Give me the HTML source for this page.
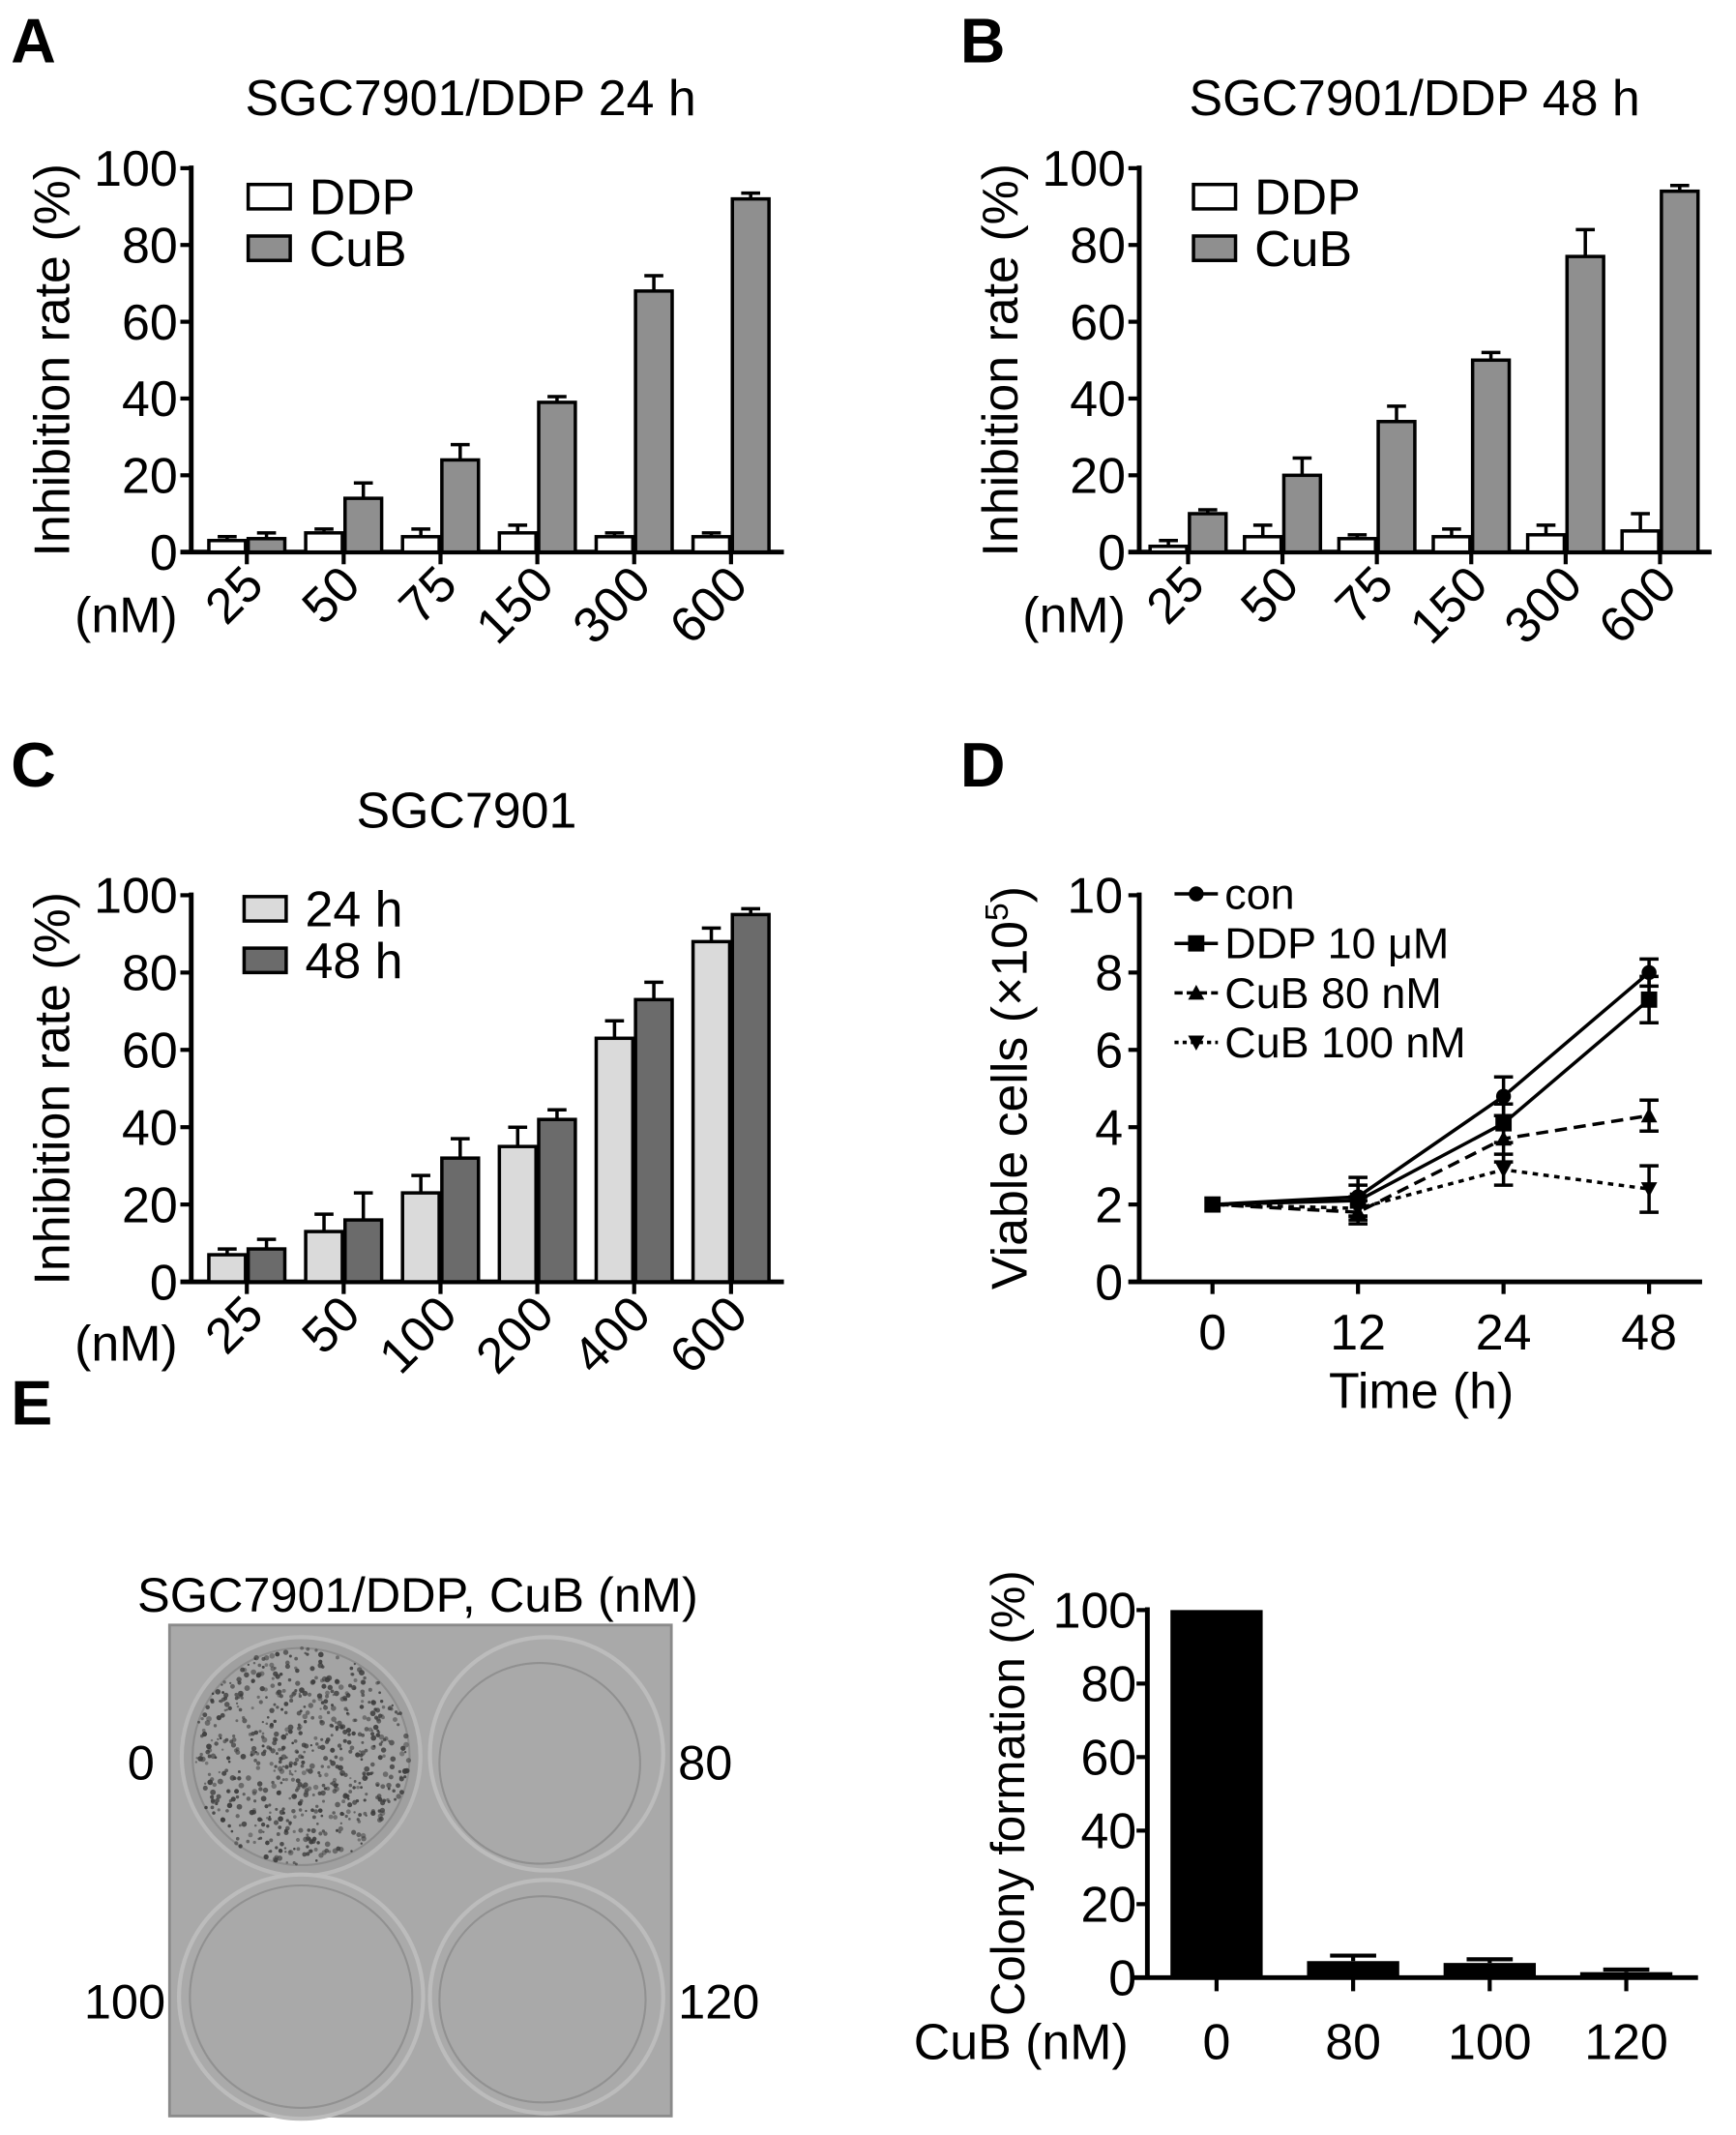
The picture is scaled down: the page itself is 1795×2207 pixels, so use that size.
<!DOCTYPE html>
<html><head><meta charset="utf-8"><style>
html,body{margin:0;padding:0;background:#fff;}
svg{display:block;font-family:"Liberation Sans",Arial,sans-serif;}
</style></head><body>
<svg id="fig" width="1795" height="2207" viewBox="0 0 1280 1574" preserveAspectRatio="none" xmlns="http://www.w3.org/2000/svg">
<rect width="1280" height="1574" fill="#fff"/>
<g id="static">
<text x="8" y="46" font-size="46" font-weight="bold">A</text>
<text x="708" y="46" font-size="46" font-weight="bold">B</text>
<text x="8" y="580" font-size="46" font-weight="bold">C</text>
<text x="708" y="580" font-size="46" font-weight="bold">D</text>
<text x="8" y="1050" font-size="46" font-weight="bold">E</text>
<text x="308" y="1188" font-size="36" text-anchor="middle">SGC7901/DDP, CuB (nM)</text>
<g>
<rect x="125" y="1198" width="370" height="362" fill="#a9a9a9"/>
<rect x="125" y="1198" width="370" height="362" fill="none" stroke="#8a8a8a" stroke-width="2"/>
<circle cx="222" cy="1295" r="88" fill="#a0a0a0" stroke="#b8b8b8" stroke-width="3"/>
<circle cx="222" cy="1295" r="80" fill="#a4a4a4" stroke="#8c8c8c" stroke-width="1.5"/>
<g id="dots" fill="#3c3c3c"></g>
<circle cx="403" cy="1293" r="86" fill="#aaaaaa" stroke="#bcbcbc" stroke-width="3"/>
<circle cx="398" cy="1300" r="74" fill="#a9a9a9" stroke="#909090" stroke-width="1.5"/>
<circle cx="222" cy="1472" r="90" fill="#aaaaaa" stroke="#bcbcbc" stroke-width="3"/>
<circle cx="222" cy="1472" r="82" fill="#a9a9a9" stroke="#919191" stroke-width="1.5"/>
<circle cx="403" cy="1472" r="86" fill="#aaaaaa" stroke="#bcbcbc" stroke-width="3"/>
<circle cx="400" cy="1474" r="76" fill="#a9a9a9" stroke="#919191" stroke-width="1.5"/>
</g>
<text x="114" y="1312" font-size="36" text-anchor="end">0</text>
<text x="500" y="1312" font-size="36">80</text>
<text x="122" y="1488" font-size="36" text-anchor="end">100</text>
<text x="500" y="1488" font-size="36">120</text>
</g>
<g id="charts"></g>
</svg>
<script>
// Panel A data
const catsA = ["25","50","75","150","300","600"];
const ddpA = [3,5,4,5,4,4];
const ddpAErr = [1,1,2,2,1,1];
const cubA = [3.5,14,24,39,68,92];
const cubAErr = [1.5,4,4,1.5,4,1.5];
// Panel B data
const catsB = ["25","50","75","150","300","600"];
const ddpB = [1.5,4,3.5,4,4.5,5.5];
const ddpBErr = [1.5,3,1,2,2.5,4.5];
const cubB = [10,20,34,50,77,94];
const cubBErr = [1,4.5,4,2,7,1.5];
// Panel C data
const catsC = ["25","50","100","200","400","600"];
const h24C = [7,13,23,35,63,88];
const h24CErr = [1.5,4.5,4.5,5,4.5,3.5];
const h48C = [8.5,16,32,42,73,95];
const h48CErr = [2.5,7,5,2.5,4.5,1.5];
const ticksPct = [0,20,40,60,80,100];
// Panel D data
const timesD = ["0","12","24","48"];
const conD = [2,2.2,4.8,8];
const conDErr = [0,0.5,0.5,0.35];
const ddpD = [2,2.1,4.1,7.3];
const ddpDErr = [0,0.4,0.5,0.6];
const cub80D = [2,1.8,3.7,4.3];
const cub80DErr = [0,0.3,0.6,0.4];
const cub100D = [2,1.9,2.9,2.4];
const cub100DErr = [0,0.3,0.4,0.6];
const ticksD = [0,2,4,6,8,10];
// Panel E data
const catsE = ["0","80","100","120"];
const colonyE = [100,4.5,4,1.5];
const colonyEErr = [0,1.5,1,0.7];

const NS = "http://www.w3.org/2000/svg";
const root = document.getElementById("charts");
function mk(tag, attrs, parent, txt){
  const e = document.createElementNS(NS, tag);
  for (const k in attrs) e.setAttribute(k, attrs[k]);
  if (txt !== undefined) e.textContent = txt;
  (parent || root).appendChild(e);
  return e;
}

function groupedChart(o){
  const g = mk("g", {});
  
  
  const y = v => o.y0 - (o.y0 - o.y100) * v / 100;
  const x = i => o.t0 + i * o.step;
  const t = mk("text", {x:o.titleX, y:o.titleY, "font-size":37, "text-anchor":"middle"}, g, o.title);
  
  
  const yt = mk("text", {transform:`translate(${o.ax-90},${(o.y0+o.y100)/2}) rotate(-90)`, "font-size":37, "text-anchor":"middle"}, g, "Inhibition rate (%)");
  
  
  mk("line", {x1:o.ax, y1:o.y100-2, x2:o.ax, y2:o.y0+1.5, stroke:"#000", "stroke-width":3.5}, g);
  mk("line", {x1:o.ax-8, y1:o.y0, x2:o.xEnd, y2:o.y0, stroke:"#000", "stroke-width":3.5}, g);
  ticksPct.forEach(v => {
    mk("line", {x1:o.ax-8, y1:y(v), x2:o.ax, y2:y(v), stroke:"#000", "stroke-width":3}, g);
    const l = mk("text", {x:o.ax-10, y:y(v)+13, "font-size":37, "text-anchor":"end"}, g, String(v));
    
    
  });
  const bw = o.bw;
  const series = [[o.s1, o.e1, o.c1, -1], [o.s2, o.e2, o.c2, 1]];
  o.cats.forEach((c, i) => {
    const cx = x(i);
    mk("line", {x1:cx, y1:o.y0, x2:cx, y2:o.y0+9, stroke:"#000", "stroke-width":3}, g);
    const l = mk("text", {transform:`translate(${cx+14},${o.y0+26}) rotate(-45)`, "font-size":37, "text-anchor":"end"}, g, c);
    
    
    series.forEach((s, k) => {
      const v = s[0][i], e = s[1][i];
      const bx = s[3] < 0 ? cx - bw - 1 : cx + 1;
      const top = y(v + e);
      mk("line", {x1:bx+bw/2, y1:y(v), x2:bx+bw/2, y2:top, stroke:"#000", "stroke-width":2.5}, g);
      mk("line", {x1:bx+bw/2-7, y1:top, x2:bx+bw/2+7, y2:top, stroke:"#000", "stroke-width":2.5}, g);
      const r = mk("rect", {x:bx, y:y(v), width:bw, height:o.y0 - y(v), fill:s[2], stroke:"#000", "stroke-width":2.5}, g);
      
      
    });
  });
  const nm = mk("text", {x:o.ax-10, y:o.nmY, "font-size":37, "text-anchor":"end"}, g, "(nM)");
  
  
  [[o.l1, o.c1, 0], [o.l2, o.c2, 1]].forEach(L => {
    const ly = o.legY + L[2] * 38;
    const lg = mk("g", {}, g);
    
    
    mk("rect", {x:o.legX, y:ly-9, width:31, height:18, fill:L[1], stroke:"#000", "stroke-width":2.5}, lg);
    mk("text", {x:o.legX+45, y:ly+13, "font-size":37}, lg, L[0]);
  });
}

groupedChart({name:"chart-a-24h", title:"SGC7901/DDP 24 h", titleX:347, titleY:85, ax:141, y0:407, y100:124, t0:182, step:71.4, xEnd:578, bw:27,
  cats:catsA, s1:ddpA, e1:ddpAErr, s2:cubA, e2:cubAErr, c1:"#ffffff", c2:"#8f8f8f", n1:"ddp", n2:"cub", l1:"DDP", l2:"CuB", legX:183, legY:145, nmY:466});
groupedChart({name:"chart-b-48h", title:"SGC7901/DDP 48 h", titleX:1043, titleY:85, ax:840, y0:407, y100:124, t0:876, step:69.6, xEnd:1262, bw:27,
  cats:catsB, s1:ddpB, e1:ddpBErr, s2:cubB, e2:cubBErr, c1:"#ffffff", c2:"#8f8f8f", n1:"ddp", n2:"cub", l1:"DDP", l2:"CuB", legX:880, legY:145, nmY:466});
groupedChart({name:"chart-c-sgc7901", title:"SGC7901", titleX:344, titleY:610, ax:141, y0:945, y100:660, t0:182, step:71.4, xEnd:578, bw:27,
  cats:catsC, s1:h24C, e1:h24CErr, s2:h48C, e2:h48CErr, c1:"#dadada", c2:"#6b6b6b", n1:"24h", n2:"48h", l1:"24 h", l2:"48 h", legX:180, legY:670, nmY:1003});

// Panel D
(function(){
  const g = mk("g", {});
  
  
  const ax = 840, y0 = 945, y10 = 660, t0 = 894, step = 107.3;
  const y = v => y0 - (y0 - y10) * v / 10;
  const x = i => t0 + i * step;
  mk("line", {x1:ax, y1:y10-2, x2:ax, y2:y0+1.5, stroke:"#000", "stroke-width":3.5}, g);
  mk("line", {x1:ax-8, y1:y0, x2:1255, y2:y0, stroke:"#000", "stroke-width":3.5}, g);
  ticksD.forEach(v => {
    mk("line", {x1:ax-8, y1:y(v), x2:ax, y2:y(v), stroke:"#000", "stroke-width":3}, g);
    const l = mk("text", {x:ax-12, y:y(v)+13, "font-size":37, "text-anchor":"end"}, g, String(v));
    
    
  });
  timesD.forEach((t, i) => {
    mk("line", {x1:x(i), y1:y0, x2:x(i), y2:y0+9, stroke:"#000", "stroke-width":3}, g);
    const l = mk("text", {x:x(i), y:995, "font-size":37, "text-anchor":"middle"}, g, t);
    
    
  });
  const xt = mk("text", {x:1048, y:1038, "font-size":37, "text-anchor":"middle"}, g, "Time (h)");
  
  
  const yt = mk("text", {transform:`translate(757,802) rotate(-90)`, "font-size":37, "text-anchor":"middle"}, g);
  
  
  mk("tspan", {}, yt, "Viable cells (×10");
  mk("tspan", {dy:-14, "font-size":24}, yt, "5");
  mk("tspan", {dy:14}, yt, ")");
  const series = [
    ["con", conD, conDErr, "", "circle"],
    ["DDP 10 μM", ddpD, ddpDErr, "", "square"],
    ["CuB 80 nM", cub80D, cub80DErr, "9,5", "tri"],
    ["CuB 100 nM", cub100D, cub100DErr, "4,4", "itri"]];
  function marker(kind, cx, cy, parent){
    if (kind === "circle") mk("circle", {cx:cx, cy:cy, r:5.5, fill:"#000"}, parent);
    else if (kind === "square") mk("rect", {x:cx-6, y:cy-6, width:12, height:12, fill:"#000"}, parent);
    else if (kind === "tri") mk("path", {d:`M${cx},${cy-6} L${cx+6},${cy+5} L${cx-6},${cy+5}Z`, fill:"#000"}, parent);
    else mk("path", {d:`M${cx},${cy+6} L${cx+6},${cy-5} L${cx-6},${cy-5}Z`, fill:"#000"}, parent);
  }
  series.forEach((s, k) => {
    const sg = mk("g", {}, g);
    
    
    const pts = s[1].map((v, i) => x(i) + "," + y(v)).join(" ");
    const pl = mk("polyline", {points:pts, fill:"none", stroke:"#000", "stroke-width":2.5}, sg);
    if (s[3]) pl.setAttribute("stroke-dasharray", s[3]);
    s[1].forEach((v, i) => {
      const e = s[2][i];
      if (e > 0) {
        mk("line", {x1:x(i), y1:y(v-e), x2:x(i), y2:y(v+e), stroke:"#000", "stroke-width":2.5}, sg);
        mk("line", {x1:x(i)-7, y1:y(v+e), x2:x(i)+7, y2:y(v+e), stroke:"#000", "stroke-width":2.5}, sg);
        mk("line", {x1:x(i)-7, y1:y(v-e), x2:x(i)+7, y2:y(v-e), stroke:"#000", "stroke-width":2.5}, sg);
      }
      marker(s[4], x(i), y(v), sg);
    });
    const ly = 659 + k * 36.5;
    const lg = mk("g", {}, g);
    
    
    const ll = mk("line", {x1:866, y1:ly, x2:898, y2:ly, stroke:"#000", "stroke-width":2.5}, lg);
    if (s[3]) ll.setAttribute("stroke-dasharray", s[3] === "9,5" ? "6,3" : "3,3");
    marker(s[4], 882, ly, lg);
    mk("text", {x:903, y:ly+11, "font-size":32}, lg, s[0]);
  });
})();

// Panel E chart
(function(){
  const g = mk("g", {});
  
  
  const ax = 846, y0 = 1458, y100 = 1187, t0 = 897, step = 100.7, bw = 68;
  const y = v => y0 - (y0 - y100) * v / 100;
  const x = i => t0 + i * step;
  mk("line", {x1:ax, y1:y100-2, x2:ax, y2:y0+1.5, stroke:"#000", "stroke-width":3.5}, g);
  mk("line", {x1:ax-10, y1:y0, x2:1252, y2:y0, stroke:"#000", "stroke-width":3.5}, g);
  ticksPct.forEach(v => {
    mk("line", {x1:ax-8, y1:y(v), x2:ax, y2:y(v), stroke:"#000", "stroke-width":3}, g);
    const l = mk("text", {x:ax-8, y:y(v)+13, "font-size":37, "text-anchor":"end"}, g, String(v));
    
    
  });
  catsE.forEach((c, i) => {
    const cx = x(i), v = colonyE[i], e = colonyEErr[i];
    mk("line", {x1:cx, y1:y0, x2:cx, y2:y0+10, stroke:"#000", "stroke-width":3}, g);
    const l = mk("text", {x:cx, y:1518, "font-size":37, "text-anchor":"middle"}, g, c);
    
    
    if (e > 0) {
      mk("line", {x1:cx, y1:y(v), x2:cx, y2:y(v+e), stroke:"#000", "stroke-width":3}, g);
      mk("line", {x1:cx-17, y1:y(v+e), x2:cx+17, y2:y(v+e), stroke:"#000", "stroke-width":3}, g);
    }
    const r = mk("rect", {x:cx-bw/2, y:y(v), width:bw, height:y0-y(v), fill:"#000"}, g);
    
    
  });
  const xl = mk("text", {x:832, y:1518, "font-size":37, "text-anchor":"end"}, g, "CuB (nM)");
  
  
  const yt = mk("text", {transform:`translate(755,1322) rotate(-90)`, "font-size":35, "text-anchor":"middle"}, g, "Colony formation (%)");
  
  
})();

// decorative colony dots (photo texture)
(function(){
  const d = document.getElementById("dots");
  let s = 12345;
  const rnd = () => { s = (s * 16807) % 2147483647; return s / 2147483647; };
  for (let i = 0; i < 700; i++) {
    const a = rnd() * Math.PI * 2, r = Math.sqrt(rnd()) * 80;
    mk("circle", {cx:222 + r*Math.cos(a), cy:1295 + r*Math.sin(a), r:0.8 + rnd()*1.3, "fill-opacity":0.45 + rnd()*0.5}, d);
  }
})();
</script>
</body></html>
